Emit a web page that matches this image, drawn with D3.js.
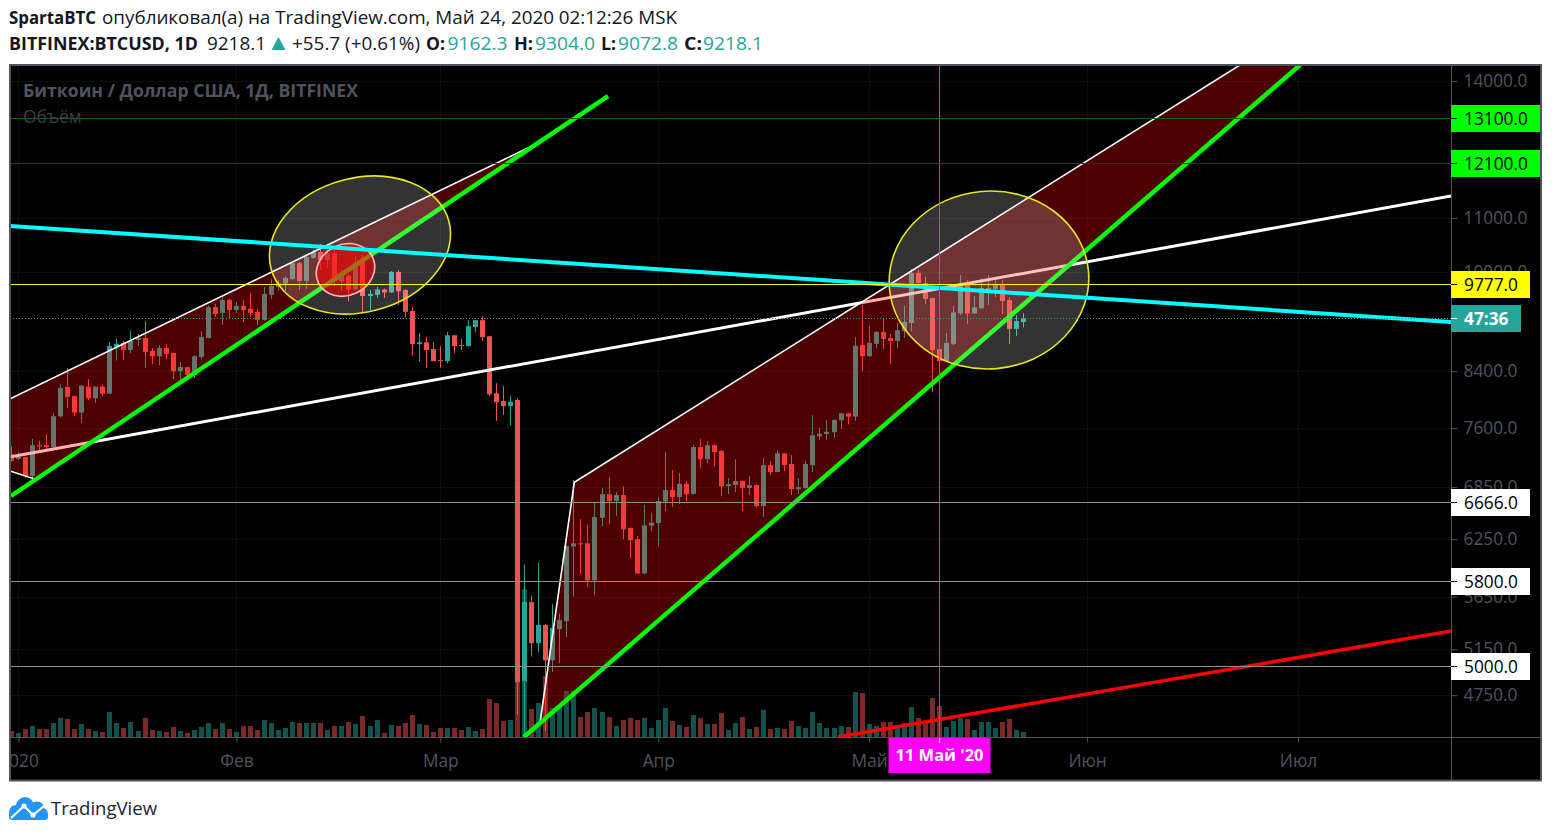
<!DOCTYPE html>
<html><head><meta charset="utf-8">
<script src="https://cdnjs.cloudflare.com/ajax/libs/d3/7.8.5/d3.min.js"></script>
<style>html,body{margin:0;padding:0;background:#fff;overflow:hidden}svg{display:block}text{font-family:"Open Sans",sans-serif}</style>
</head><body><svg id="c" width="1552" height="836"></svg>
<script>
const firstBar = -1; // Dec 31 2019; index 0 = Jan 1 2020
const opens = [7260,7200,7220,6985,7375,7375,7350,7760,8170,8040,
7810,8175,8010,8175,8075,8760,8830,8720,8875,8905,
8705,8625,8750,8675,8400,8460,8345,8615,8905,9405,
9310,9525,9355,9425,9375,9325,9195,9610,9745,9800,
9880,10160,9850,10255,10360,10215,10340,9840,9930,9700,
10180,9590,9610,9700,9650,10005,9690,9340,8810,8840,
8735,8565,8550,8950,8795,8780,9080,9190,8935,8080,
7970,7900,7985,4870,5595,5205,5375,5050,5335,5410,
6170,6205,6205,5815,6490,6765,6685,6755,6375,6250,
5885,6400,6430,6680,6815,6730,6890,6770,7350,7195,
7375,7300,6860,6875,6925,6840,6875,6625,7120,7035,
7270,7135,6825,6840,7120,7490,7520,7545,7705,7800,
7755,8800,8625,8815,9000,8905,8860,9015,9145,9985,
9810,9555,8735,8550,8815,9300,9810,9300,9385,9690,
9710,9775,9520,9050,9160];
const highs = [7360,7285,7225,7455,7435,7520,7800,8210,8450,8045,
8195,8285,8180,8205,8840,8890,8860,9015,8970,9175,
8750,8795,8810,8680,8535,8465,8640,9015,9425,9455,
9560,9540,9490,9525,9640,9375,9745,9880,9860,9930,
10180,10180,10290,10400,10510,10400,10390,10050,9960,10290,
10320,9690,9745,9715,10020,10040,9705,9405,8985,8920,
8840,8780,9000,8950,8890,9190,9190,9255,8940,8225,
8185,8040,8010,5975,5660,5995,5385,5575,5485,6180,
6935,6475,6410,6670,6840,6970,6790,6860,6380,6285,
6640,6545,6730,7285,7060,7020,6925,7375,7455,7430,
7380,7310,6960,7195,6930,6985,6880,7210,7170,7310,
7275,7250,6960,7170,7775,7605,7710,7715,7805,7805,
8925,9440,9090,9015,9210,8970,9145,9420,10055,10040,
9915,9560,8820,8985,9420,9950,9860,9590,9895,9950,
9860,9860,9570,9275,9304];
const lows = [7160,7185,6965,6935,7290,7290,7340,7745,7870,7760,
7670,7985,7945,8045,8070,8560,8565,8675,8780,8450,
8505,8490,8580,8285,8255,8330,8300,8580,8900,9240,
9115,9205,9310,9160,9240,9115,9180,9540,9675,9675,
9860,9690,9710,10235,10040,10070,9760,9675,9505,9690,
9310,9355,9555,9555,9640,9440,9240,8640,8550,8450,
8550,8450,8520,8675,8720,8775,9000,8860,8040,7695,
7780,7640,4590,3850,5085,5120,4460,4945,5025,5260,
5650,5880,5745,5665,6395,6420,6510,6250,6045,5880,
5880,6340,6175,6565,6615,6650,6680,6765,7085,7145,
7105,6740,6765,6790,6565,6755,6610,6500,7000,7030,
7045,6755,6765,6830,7035,7440,7440,7470,7590,7650,
7695,8400,8620,8750,8735,8510,8750,8905,9015,9790,
9455,8095,8500,8540,8795,9270,9125,9295,9380,9440,
9570,9290,8810,8940,9072];
const closes = [7175,7225,6985,7375,7360,7350,7760,8155,8030,7810,
8190,8010,8175,8075,8780,8815,8720,8860,8905,8690,
8625,8750,8660,8400,8465,8345,8625,8920,9400,9290,
9525,9355,9425,9355,9310,9195,9625,9760,9810,9900,
10160,9845,10270,10360,10217,10340,9840,9930,9700,10180,
9590,9625,9700,9650,10005,9670,9325,8810,8840,8720,
8550,8550,8950,8780,8780,9095,9190,8920,8065,7955,
7900,7960,4860,5595,5205,5375,5050,5345,5420,6175,
6205,6195,5815,6500,6765,6685,6755,6360,6240,5885,
6405,6435,6685,6815,6730,6890,6765,7350,7195,7375,
7285,6860,6885,6925,6840,6875,6625,7120,7035,7270,
7120,6825,6850,7135,7505,7525,7550,7710,7800,7755,
8785,8625,8830,9000,8890,8860,9030,9160,9985,9810,
9540,8720,8550,8830,9315,9810,9300,9400,9725,9725,
9775,9505,9050,9175,9218.1];
const volumes = [6,4,8,11,8,8,14,19,18,8,
13,8,6,5,25,14,9,15,6,19,
7,6,5,10,6,4,7,10,14,8,
14,8,5,11,11,7,17,14,7,9,
15,14,14,14,14,7,11,11,15,13,
21,11,17,4,12,11,14,22,13,12,
5,9,9,9,7,10,6,8,38,34,
16,17,168,148,28,34,61,29,32,46,
46,20,25,29,25,20,11,17,19,17,
19,9,17,29,16,12,10,22,19,13,
13,24,7,14,20,8,10,27,8,9,
8,16,11,9,25,14,9,9,11,10,
45,44,13,11,15,15,12,14,30,19,
14,39,31,10,16,19,18,7,15,15,
9,15,18,7,5];

const priceTicks = [14000,11000,10000,8400,7600,6850,6250,5650,5150,4750];
const timeTickBars = [0,31,60,91,121,152,182];
const timeTickLabels = ["2020","Фев","Мар","Апр","Май","Июн","Июл"];

const levels = [13100,12100,6666,5800,5000];
const levelColors = ["#046604","#044a04","#8f8f8f","#8f8f8f","#8f8f8f"];
const levelTagColors = ["#00ff00","#00ff00","#ffffff","#ffffff","#ffffff"];
const yellowLevel = 9777, lastPrice = 9218.1, countdown = "47:36";

// drawings: [bar index, price]
const longWhite = [[-1.07,7227],[203.77,11436]];
const cyanLine = [[-1.21,10847],[203.77,9160]];
const redLine = [[116.6,4413],[203.77,5317]];
const greenA = [[-1.07,6744],[83.86,13635]];
const greenB = [[71.9,4413],[182.3,14400]];
const triangleA = [[-13.87,7417],[2.49,6943],[73.47,12520]];
const triangleB = [[74.18,4523],[79.06,6909],[205.2,18378]];
// ellipses: two ends of long axis in data, and short/long ratio
const ellipseOuterA = {a:[35.93,10060],b:[61.22,10938],ratio:.728};
const ellipseOuterB = {a:[123.89,9713],b:[152.2,10015],ratio:.89};
const ellipseInner = {a:[42.65,9817],b:[50.38,10265],ratio:.85};
const crosshairBar = 131, crosshairLabel = "11 Май '20";

const W = {left:10,right:1451,top:66,bottom:737,frameR:1541,frameB:780};
const x = d3.scaleLinear().domain([0,182]).range([18.5,1298]);
const y = d3.scaleLog().domain([14000,5000]).range([81,666]);
const v = d3.scaleLinear().domain([0,168]).range([W.bottom,569]);

const svg = d3.select("#c");
const grey = "#50535e";
const defs = svg.append("defs");
defs.append("clipPath").attr("id","plot").append("rect")
  .attr("x",W.left).attr("y",W.top).attr("width",W.right-W.left).attr("height",W.bottom-W.top);
defs.append("clipPath").attr("id","axisX2").append("rect").attr("x",W.left).attr("y",-2).attr("width",W.right-W.left).attr("height",60);

svg.append("rect").attr("x",W.left).attr("y",W.top-1).attr("width",W.frameR-W.left).attr("height",W.frameB-W.top+1).attr("fill","#000");

const plot = svg.append("g").attr("clip-path","url(#plot)");

plot.selectAll(".gx").data(timeTickBars).enter().append("line")
  .attr("x1",d=>Math.floor(x(d))+.5).attr("x2",d=>Math.floor(x(d))+.5).attr("y1",W.top).attr("y2",W.bottom).attr("stroke","#0e0e0e");
plot.selectAll(".gy").data(priceTicks).enter().append("line")
  .attr("x1",W.left).attr("x2",W.right).attr("y1",d=>Math.round(y(d))+.5).attr("y2",d=>Math.round(y(d))+.5).attr("stroke","#0e0e0e");

const up="#26a69a", down="#ef5350";
const bars = opens.map((o,i)=>({i:i+firstBar,o,h:highs[i],l:lows[i],c:closes[i],vol:volumes[i]}));
const col = d=>d.c>=d.o?up:down;

plot.selectAll(".vol").data(bars).enter().append("rect")
  .attr("x",d=>Math.floor(x(d.i))-2).attr("width",5)
  .attr("y",d=>v(d.vol)).attr("height",d=>W.bottom-v(d.vol))
  .attr("fill",col).attr("opacity",.5);
plot.selectAll(".wick").data(bars).enter().append("rect")
  .attr("x",d=>Math.floor(x(d.i))).attr("width",1)
  .attr("y",d=>y(d.h)).attr("height",d=>y(d.l)-y(d.h))
  .attr("fill",col);
plot.selectAll(".body").data(bars).enter().append("rect")
  .attr("x",d=>Math.floor(x(d.i))-2).attr("width",5)
  .attr("y",d=>y(Math.max(d.o,d.c))).attr("height",d=>Math.max(1,Math.abs(y(d.o)-y(d.c))))
  .attr("fill",col);

const line = d3.line().x(d=>x(d[0])).y(d=>y(d[1]));
function seg(pts,c,w){plot.append("path").attr("d",line(pts)).attr("fill","none").attr("stroke",c).attr("stroke-width",w);}

seg(longWhite,"#fff",3);
[triangleA,triangleB].forEach(t=>{
  plot.append("path").attr("d",line(t)+"Z").attr("fill","rgba(255,0,0,.3)").attr("stroke","#fff").attr("stroke-width",1.6);
});
seg(greenA,"#00ff00",4.5);
seg(greenB,"#00ff00",4.5);

function ellipse(e,fill,stroke,w){
  const ax=x(e.a[0]),ay=y(e.a[1]),bx=x(e.b[0]),by=y(e.b[1]);
  const cx=(ax+bx)/2,cy=(ay+by)/2,rx=Math.hypot(bx-ax,by-ay)/2,ang=Math.atan2(by-ay,bx-ax)*180/Math.PI;
  plot.append("ellipse").attr("cx",0).attr("cy",0).attr("rx",rx).attr("ry",rx*e.ratio)
    .attr("transform",`translate(${cx},${cy}) rotate(${ang})`)
    .attr("fill",fill).attr("stroke",stroke).attr("stroke-width",w);
}
ellipse(ellipseOuterA,"rgba(255,255,255,.2)","#e8e61e",1.6);
ellipse(ellipseOuterB,"rgba(255,255,255,.2)","#e8e61e",1.6);
ellipse(ellipseInner,"rgba(255,0,0,.58)","#ffb8b8",1.6);

seg(cyanLine,"#00ffff",4);
seg(redLine,"#ff0000",3.5);

plot.append("line").attr("x1",Math.floor(x(crosshairBar))+.5).attr("x2",Math.floor(x(crosshairBar))+.5)
  .attr("y1",W.top).attr("y2",W.bottom).attr("stroke","#d82ed8");

plot.selectAll(".lvl").data(levels).enter().append("line")
  .attr("x1",W.left).attr("x2",W.right).attr("y1",d=>Math.floor(y(d))+.5).attr("y2",d=>Math.floor(y(d))+.5)
  .attr("stroke",(d,i)=>levelColors[i]);
plot.append("line").attr("x1",W.left).attr("x2",W.right).attr("y1",Math.floor(y(yellowLevel))+.5).attr("y2",Math.floor(y(yellowLevel))+.5).attr("stroke","#ffff00");
plot.append("line").attr("x1",W.left).attr("x2",W.right).attr("y1",Math.floor(y(lastPrice))+.5).attr("y2",Math.floor(y(lastPrice))+.5)
  .attr("stroke","#26a69a").attr("stroke-dasharray","1 2");

svg.append("text").attr("x",23).attr("y",97).attr("fill",grey).attr("font-size",17.5).attr("font-weight",700).attr("textLength",335).attr("lengthAdjust","spacingAndGlyphs").text("Биткоин / Доллар США, 1Д, BITFINEX");
svg.append("text").attr("x",23).attr("y",123).attr("fill","#3b3e47").attr("font-size",17.5).text("Объём");

const yAxis = svg.append("g").attr("transform",`translate(${W.right+.5},0)`)
  .call(d3.axisRight(y).tickValues(priceTicks).tickFormat(d=>d.toFixed(1)).tickSize(6).tickPadding(6));
yAxis.select(".domain").remove();
yAxis.selectAll("line").attr("stroke",grey);
yAxis.selectAll("text").attr("fill",grey).attr("font-size",17.3).attr("font-family","'Open Sans',sans-serif");

const xAxis = svg.append("g").attr("transform",`translate(0,${W.bottom+.5})`).attr("clip-path","url(#axisX2)");
xAxis.call(d3.axisBottom(x).tickValues(timeTickBars).tickFormat((d,i)=>timeTickLabels[i]).tickSize(5).tickPadding(12));
xAxis.select(".domain").remove();
xAxis.selectAll("line").attr("stroke",grey);
xAxis.selectAll("text").attr("fill",grey).attr("font-size",17.3).attr("font-family","'Open Sans',sans-serif");

svg.append("line").attr("x1",W.left).attr("x2",W.frameR).attr("y1",W.bottom+.5).attr("y2",W.bottom+.5).attr("stroke",grey);
svg.append("line").attr("x1",W.right+.5).attr("x2",W.right+.5).attr("y1",W.top).attr("y2",W.frameB).attr("stroke",grey);

const cx0 = Math.floor(x(crosshairBar))+.5;
svg.append("rect").attr("x",cx0-51).attr("y",W.bottom+1).attr("width",102).attr("height",35).attr("fill","#ff00ff");
svg.append("line").attr("x1",cx0).attr("x2",cx0).attr("y1",W.bottom+1).attr("y2",W.bottom+6).attr("stroke","#fff");
svg.append("text").attr("x",cx0).attr("y",W.bottom+24).attr("text-anchor","middle").attr("fill","#fff").attr("font-size",16.5).attr("font-weight",700).text(crosshairLabel);

function tag(p,label,fill,txt,width,weight,tickCol){
  const c=Math.floor(y(p))+.5;
  svg.append("rect").attr("x",W.right).attr("y",c-13.5).attr("width",width).attr("height",27).attr("fill",fill);
  svg.append("line").attr("x1",W.right).attr("x2",W.right+6).attr("y1",c).attr("y2",c).attr("stroke",tickCol);
  svg.append("text").attr("x",W.right+13).attr("y",c+6).attr("fill",txt).attr("font-size",17.3).attr("font-weight",weight).text(label);
}
levels.forEach((p,i)=>tag(p,p.toFixed(1),levelTagColors[i],"#000",i<2?90:79,400,"#000"));
tag(yellowLevel,yellowLevel.toFixed(1),"#ffff00","#000",79,400,"#000");
tag(lastPrice,countdown,"#26a69a","#fff",70,700,"#fff");

svg.append("rect").attr("x",10).attr("y",65).attr("width",1531).attr("height",715.5).attr("fill","none").attr("stroke",grey).attr("stroke-width",2);

function t(xp,yp,s,o={}){const e=svg.append("text").attr("x",xp).attr("y",yp).attr("font-size",o.size||17.5).attr("fill",o.fill||"#131722").attr("font-weight",o.w||400).text(s);if(o.len)e.attr("textLength",o.len).attr("lengthAdjust","spacingAndGlyphs");return e;}
t(9,24,"SpartaBTC",{w:700,len:87});
t(102,24,"опубликовал(а) на TradingView.com, Май 24, 2020 02:12:26 MSK",{len:575});
t(9,50,"BITFINEX:BTCUSD, 1D",{w:700,len:189});
t(207,50,"9218.1",{len:59});
svg.append("path").attr("d","M271.5 50L278.5 37L285.5 50Z").attr("fill","#26a69a");
t(292,50,"+55.7 (+0.61%)",{len:128});
const teal="#26a69a";
t(426,50,"O:",{w:700,len:19}); t(447.5,50,"9162.3",{fill:teal,len:60});
t(514,50,"H:",{w:700,len:19}); t(535,50,"9304.0",{fill:teal,len:60});
t(601,50,"L:",{w:700,len:15}); t(618,50,"9072.8",{fill:teal,len:60});
t(684,50,"C:",{w:700,len:18}); t(703,50,"9218.1",{fill:teal,len:60});

// logo: cloud from overlapping round shapes
const logo = svg.append("g").attr("fill","#2196f3");
[[25,806,9],[37,809,7.5],[16,812,7],[42,814,6]].forEach(c=>logo.append("circle").attr("cx",c[0]).attr("cy",c[1]).attr("r",c[2]));
logo.append("rect").attr("x",9).attr("y",812).attr("width",39).attr("height",8).attr("rx",3);
svg.append("path").attr("d","M11 818L24 806L33 815L44 806").attr("fill","none").attr("stroke","#fff").attr("stroke-width",2.2);
svg.selectAll(".cd").data([[24,806],[33,815]]).enter().append("circle").attr("cx",d=>d[0]).attr("cy",d=>d[1]).attr("r",2.6).attr("fill","#fff");
t(51,815,"TradingView",{size:18,fill:"#1e222d",len:106});
</script></body></html>
